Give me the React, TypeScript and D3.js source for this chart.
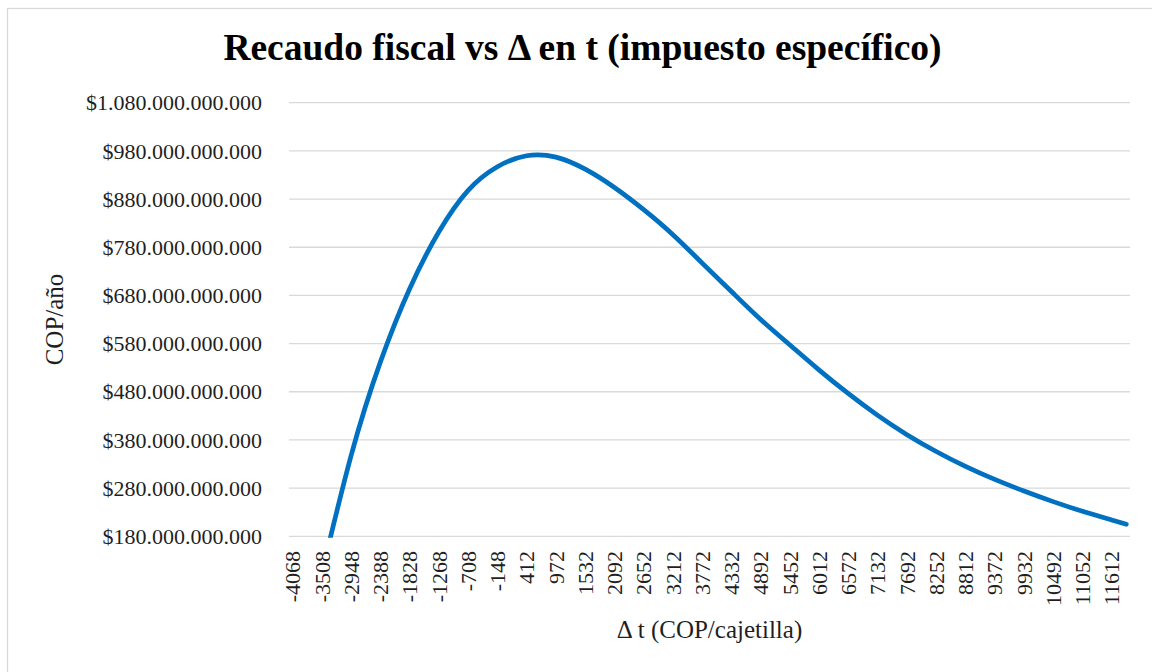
import * as d3 from "d3";

// Δ t (COP/cajetilla) and recaudo (miles de millones COP/año)
const deltaT = [
  -4068, -3508, -2948, -2388, -1828, -1268, -708, -148, 412, 972, 1532, 2092, 2652, 3212, 3772,
  4332, 4892, 5452, 6012, 6572, 7132, 7692, 8252, 8812, 9372, 9932, 10492, 11052, 11612, 11892,
];
const recaudo = [
  -140, 105, 348, 542, 694, 812, 898, 947, 970, 967, 942, 904, 858, 806, 747,
  688, 630, 577, 525, 476, 431, 391, 356, 325, 298, 274, 252, 232, 214, 205,
];
const xTicks = deltaT.slice(0, 29);
const yTicks = [180, 280, 380, 480, 580, 680, 780, 880, 980, 1080];

const W = 1152;
const H = 672;
const FONT = "'Liberation Serif', 'Times New Roman', serif";
const GRID = "#d9d9d9";

const cop = d3.formatLocale({
  decimal: ",",
  thousands: ".",
  grouping: [3],
  currency: ["$", ""],
}).format("$,.0f");

export default function App() {
  const plot = { left: 289, right: 1130, top: 102.7, bottom: 536.3 };

  // category axis: half a category step of padding on each side
  const x = d3.scaleLinear().domain([-4138, 11962]).range([plot.left, plot.right]);
  const y = d3.scaleLinear().domain([180, 1080]).range([plot.bottom, plot.top]);

  const line = d3
    .line<number>()
    .x((_, i) => x(deltaT[i]))
    .y((d) => y(d))
    .curve(d3.curveNatural);

  return (
    <svg
      width={W}
      height={H}
      style={{ position: "absolute", left: 0, top: 0, background: "#fff" }}
      fontFamily={FONT}
    >
      <rect x={7.5} y={8.5} width={1160} height={680} fill="#fff" stroke={GRID} strokeWidth={1.3} />

      <text x={582.5} y={60} textAnchor="middle" fontSize={37.5} fontWeight="bold" fill="#000">
        Recaudo fiscal vs Δ en t (impuesto específico)
      </text>

      {yTicks.map((v) => (
        <g key={v}>
          <line x1={plot.left} x2={plot.right} y1={y(v)} y2={y(v)} stroke={GRID} strokeWidth={1.3} />
          <text x={262} y={y(v)} dy="0.35em" textAnchor="end" fontSize={22} fill="#1f1f1f">
            {cop(v * 1e9)}
          </text>
        </g>
      ))}

      {xTicks.map((t) => (
        <text
          key={t}
          transform={`translate(${x(t)},551) rotate(-90)`}
          dy="0.35em"
          textAnchor="end"
          fontSize={22}
          fill="#1f1f1f"
        >
          {t}
        </text>
      ))}

      <defs>
        <clipPath id="plot-clip">
          <rect x={plot.left} y={plot.top - 10} width={plot.right - plot.left + 10} height={plot.bottom - plot.top + 11.5} />
        </clipPath>
      </defs>
      <path
        d={line(recaudo) ?? ""}
        fill="none"
        stroke="#0070c0"
        strokeWidth={4.7}
        strokeLinecap="round"
        strokeLinejoin="round"
        clipPath="url(#plot-clip)"
      />

      <text x={(plot.left + plot.right) / 2} y={638} textAnchor="middle" fontSize={25} fill="#1f1f1f">
        Δ t (COP/cajetilla)
      </text>
      <text
        transform={`translate(63,${(plot.top + plot.bottom) / 2}) rotate(-90)`}
        textAnchor="middle"
        fontSize={25}
        fill="#1f1f1f"
      >
        COP/año
      </text>
    </svg>
  );
}
